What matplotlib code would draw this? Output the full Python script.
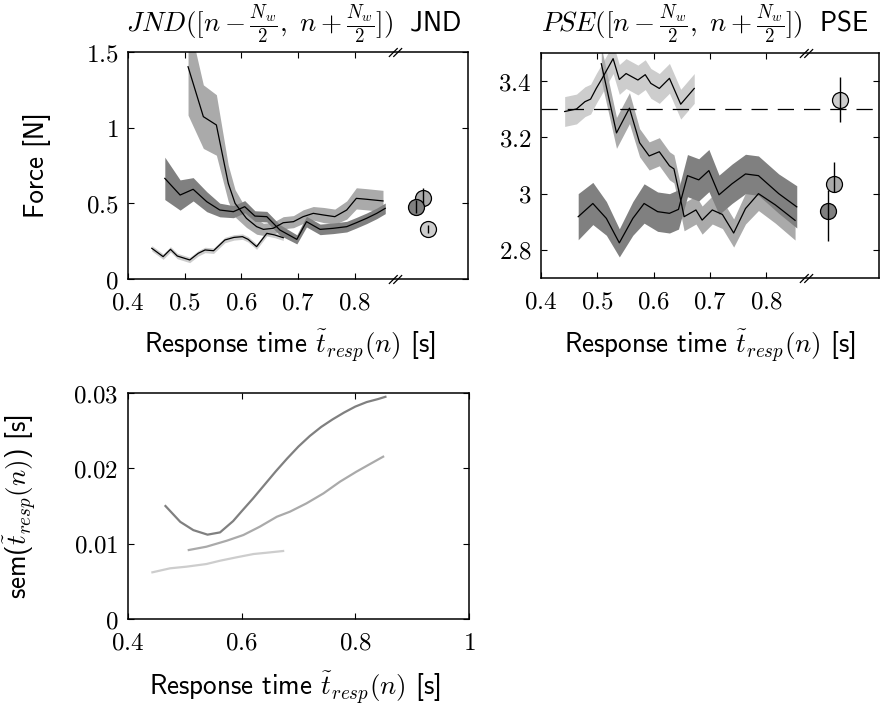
import matplotlib
matplotlib.use('Agg')
import matplotlib.pyplot as plt
from matplotlib.path import Path
from matplotlib.ticker import FuncFormatter

plt.rcParams['mathtext.fontset'] = 'cm'
plt.rcParams['font.family'] = ['cmss10', 'DejaVu Sans']
plt.rcParams['axes.unicode_minus'] = False

# ---- JND over response time (top left) ----
jnd_light_x = [0.442, 0.462, 0.475, 0.487, 0.509, 0.524, 0.536, 0.551, 0.571, 0.587,
               0.602, 0.612, 0.627, 0.645, 0.659, 0.674]
jnd_light_y = [0.203, 0.148, 0.196, 0.152, 0.126, 0.170, 0.192, 0.187, 0.258, 0.275,
               0.280, 0.262, 0.214, 0.302, 0.291, 0.273]
jnd_light_e = [0.018] * 16

jnd_mid_x = [0.506, 0.533, 0.556, 0.577, 0.589, 0.609, 0.627, 0.639, 0.656, 0.674,
             0.692, 0.709, 0.727, 0.745, 0.765, 0.786, 0.803, 0.821, 0.850]
jnd_mid_y = [1.403, 1.073, 1.018, 0.632, 0.500, 0.401, 0.346, 0.328, 0.335, 0.372,
             0.379, 0.412, 0.434, 0.423, 0.412, 0.456, 0.533, 0.527, 0.516]
jnd_mid_e = [0.32, 0.21, 0.20, 0.12, 0.09, 0.06, 0.05, 0.04, 0.04, 0.04,
             0.04, 0.045, 0.045, 0.05, 0.05, 0.06, 0.07, 0.07, 0.07]

jnd_dark_x = [0.465, 0.492, 0.515, 0.539, 0.562, 0.586, 0.606, 0.624, 0.645, 0.668,
              0.698, 0.715, 0.739, 0.762, 0.786, 0.803, 0.821, 0.839, 0.854]
jnd_dark_y = [0.665, 0.555, 0.593, 0.511, 0.456, 0.445, 0.478, 0.416, 0.412, 0.324,
              0.262, 0.379, 0.328, 0.335, 0.346, 0.372, 0.401, 0.434, 0.467]
jnd_dark_e = [0.14, 0.10, 0.077, 0.066, 0.045, 0.04, 0.04, 0.035, 0.035, 0.035,
              0.03, 0.035, 0.035, 0.035, 0.035, 0.035, 0.035, 0.035, 0.035]

# overall JND per group (x position, value, lower err, upper err)
jnd_pt_x = [0.930, 0.920, 0.909]
jnd_pt_y = [0.330, 0.537, 0.478]
jnd_pt_lo = [0.028, 0.048, 0.042]
jnd_pt_hi = [0.028, 0.063, 0.044]

# ---- PSE over response time (top right) ----
pse_light_x = [0.442, 0.463, 0.478, 0.488, 0.498, 0.510, 0.528, 0.539, 0.551, 0.572,
               0.585, 0.595, 0.610, 0.628, 0.648, 0.672]
pse_light_y = [3.292, 3.301, 3.327, 3.336, 3.374, 3.415, 3.480, 3.406, 3.427, 3.404,
               3.423, 3.392, 3.374, 3.410, 3.318, 3.374]
pse_light_e = [0.053] * 16

pse_mid_x = [0.507, 0.534, 0.557, 0.575, 0.592, 0.610, 0.628, 0.636, 0.645, 0.654,
             0.675, 0.686, 0.704, 0.722, 0.742, 0.763, 0.786, 0.816, 0.851]
pse_mid_y = [3.462, 3.216, 3.304, 3.181, 3.134, 3.149, 3.099, 3.088, 3.006, 2.918,
             2.942, 2.906, 2.942, 2.926, 2.860, 2.947, 3.000, 2.960, 2.905]
pse_mid_e = [0.06, 0.055, 0.055, 0.05, 0.05, 0.05, 0.05, 0.05, 0.05, 0.05,
             0.05, 0.05, 0.05, 0.05, 0.05, 0.055, 0.06, 0.065, 0.07]

pse_dark_x = [0.466, 0.492, 0.516, 0.539, 0.563, 0.583, 0.607, 0.628, 0.644, 0.660,
              0.680, 0.698, 0.716, 0.739, 0.763, 0.786, 0.822, 0.854]
pse_dark_y = [2.918, 2.965, 2.912, 2.825, 2.912, 2.965, 2.936, 2.930, 2.944, 3.064,
              3.049, 3.082, 2.996, 3.035, 3.070, 3.064, 3.000, 2.953]
pse_dark_e = [0.082, 0.075, 0.06, 0.05, 0.06, 0.07, 0.07, 0.07, 0.07, 0.075,
              0.075, 0.075, 0.07, 0.07, 0.07, 0.07, 0.07, 0.075]

pse_ref = 3.3
pse_pt_x = [0.931, 0.920, 0.910]
pse_pt_y = [3.333, 3.035, 2.937]
pse_pt_lo = [0.080, 0.030, 0.107]
pse_pt_hi = [0.081, 0.078, 0.076]

# ---- sem of response time (bottom) ----
sem_light_x = [0.443, 0.474, 0.503, 0.538, 0.562, 0.591, 0.621, 0.644, 0.673]
sem_light_y = [0.0062, 0.00673, 0.00695, 0.0073, 0.00774, 0.00819, 0.00863, 0.0088, 0.00903]

sem_mid_x = [0.507, 0.538, 0.574, 0.603, 0.632, 0.662, 0.685, 0.714, 0.744, 0.773,
             0.802, 0.826, 0.849]
sem_mid_y = [0.00916, 0.0096, 0.0104, 0.01115, 0.01226, 0.01358, 0.01425, 0.01535,
             0.01668, 0.01823, 0.01956, 0.02058, 0.02155]

sem_dark_x = [0.466, 0.492, 0.515, 0.540, 0.562, 0.585, 0.600, 0.620, 0.640, 0.660,
              0.680, 0.700, 0.720, 0.740, 0.760, 0.780, 0.800, 0.820, 0.840, 0.853]
sem_dark_y = [0.0150, 0.0129, 0.0118, 0.0112, 0.0115, 0.0130, 0.0143, 0.0160, 0.0178,
              0.0196, 0.0213, 0.0229, 0.0243, 0.0255, 0.0265, 0.0274, 0.0282, 0.0288,
              0.0292, 0.0295]

c_light, c_mid, c_dark = '#cdcdcd', '#aaaaaa', '#808080'
break_x = 0.871

fs = 18
fl = 19.5
ft = 19.5
fig = plt.figure(figsize=(8.82, 7.06), dpi=100)
ax1 = fig.add_axes([0.1451, 0.6048, 0.3855, 0.3215])
ax2 = fig.add_axes([0.6134, 0.6062, 0.3832, 0.3187])
ax3 = fig.add_axes([0.1451, 0.1232, 0.3866, 0.3201])

fmt = FuncFormatter(lambda v, p: '$%g$' % v)
brk = Path([(-1.5, -1), (0.5, 1), (-0.5, -1), (1.5, 1)],
           [Path.MOVETO, Path.LINETO, Path.MOVETO, Path.LINETO])


def style(ax):
    for s in ax.spines.values():
        s.set_linewidth(1.1)
    ax.tick_params(direction='in', top=True, right=True, length=4, width=0.8,
                   labelsize=fs)
    ax.tick_params(axis='x', pad=9)
    ax.tick_params(axis='y', pad=7)
    ax.xaxis.set_major_formatter(fmt)
    ax.yaxis.set_major_formatter(fmt)


def band(ax, x, y, e, col):
    lo = [a - b for a, b in zip(y, e)]
    hi = [a + b for a, b in zip(y, e)]
    ax.fill_between(x, lo, hi, color=col, lw=0)
    ax.plot(x, y, color='k', lw=0.9)


def points(ax, xs, ys, lo, hi, cols, z=5):
    for i, (x, y, l, h, c) in enumerate(zip(xs, ys, lo, hi, cols)):
        ax.plot([x], [y], 'o', ms=11.5, mfc=c, mec='k', mew=0.9, zorder=z + 2 * i,
                clip_on=False)
        ax.errorbar([x], [y], yerr=[[l], [h]], fmt='none', ecolor='k', elinewidth=1,
                    capsize=0, zorder=z + 2 * i + 1, clip_on=False)


def add_break(ax):
    ax.plot([break_x, break_x], [0, 1], ls='none', marker=brk, ms=9.5, mec='k',
            mew=0.9, transform=ax.get_xaxis_transform(), clip_on=False, zorder=10)


xlab = r'Response time $\tilde{t}_{\mathit{resp}}(n)$ [s]'

# top left
band(ax1, jnd_light_x, jnd_light_y, jnd_light_e, c_light)
band(ax1, jnd_mid_x, jnd_mid_y, jnd_mid_e, c_mid)
band(ax1, jnd_dark_x, jnd_dark_y, jnd_dark_e, c_dark)
points(ax1, jnd_pt_x, jnd_pt_y, jnd_pt_lo, jnd_pt_hi, [c_light, c_mid, c_dark])
ax1.set_xlim(0.4, 1.0)
ax1.set_ylim(0, 1.5)
ax1.set_xticks([0.4, 0.5, 0.6, 0.7, 0.8])
ax1.set_yticks([0, 0.5, 1, 1.5])
style(ax1)
add_break(ax1)
ax1.set_ylabel('Force [N]', fontsize=fl)
ax1.yaxis.set_label_coords(-0.225, 0.5)
ax1.set_xlabel(xlab, fontsize=fl, va='top')
ax1.xaxis.set_label_coords(0.476, -0.215)
ax1.text(0.488, 1.09, r'$\mathit{JND}([n-\frac{N_w}{2},\ n+\frac{N_w}{2}])\ \ \mathsf{JND}$',
         transform=ax1.transAxes, ha='center', va='baseline', fontsize=ft)

# top right
band(ax2, pse_light_x, pse_light_y, pse_light_e, c_light)
band(ax2, pse_mid_x, pse_mid_y, pse_mid_e, c_mid)
band(ax2, pse_dark_x, pse_dark_y, pse_dark_e, c_dark)
ax2.axhline(pse_ref, color='k', lw=0.9, dashes=(13, 8), zorder=4)
points(ax2, pse_pt_x, pse_pt_y, pse_pt_lo, pse_pt_hi, [c_light, c_mid, c_dark])
ax2.set_xlim(0.4, 1.0)
ax2.set_ylim(2.7, 3.5)
ax2.set_xticks([0.4, 0.5, 0.6, 0.7, 0.8])
ax2.set_yticks([2.8, 3.0, 3.2, 3.4])
style(ax2)
add_break(ax2)
ax2.set_xlabel(xlab, fontsize=fl, va='top')
ax2.xaxis.set_label_coords(0.5, -0.22)
ax2.text(0.485, 1.095, r'$\mathit{PSE}([n-\frac{N_w}{2},\ n+\frac{N_w}{2}])\ \ \mathsf{PSE}$',
         transform=ax2.transAxes, ha='center', va='baseline', fontsize=ft)

# bottom
ax3.plot(sem_light_x, sem_light_y, color=c_light, lw=1.6)
ax3.plot(sem_mid_x, sem_mid_y, color=c_mid, lw=1.6)
ax3.plot(sem_dark_x, sem_dark_y, color=c_dark, lw=1.6)
ax3.set_xlim(0.4, 1.0)
ax3.set_ylim(0, 0.03)
ax3.set_xticks([0.4, 0.6, 0.8, 1.0])
ax3.set_yticks([0, 0.01, 0.02, 0.03])
style(ax3)
ax3.set_ylabel(r'sem($\tilde{t}_{\mathit{resp}}(n)$) [s]', fontsize=fl)
ax3.yaxis.set_label_coords(-0.264, 0.5)
ax3.set_xlabel(xlab, fontsize=fl, va='top')
ax3.xaxis.set_label_coords(0.49, -0.222)

fig.savefig('out.png', dpi=100)
